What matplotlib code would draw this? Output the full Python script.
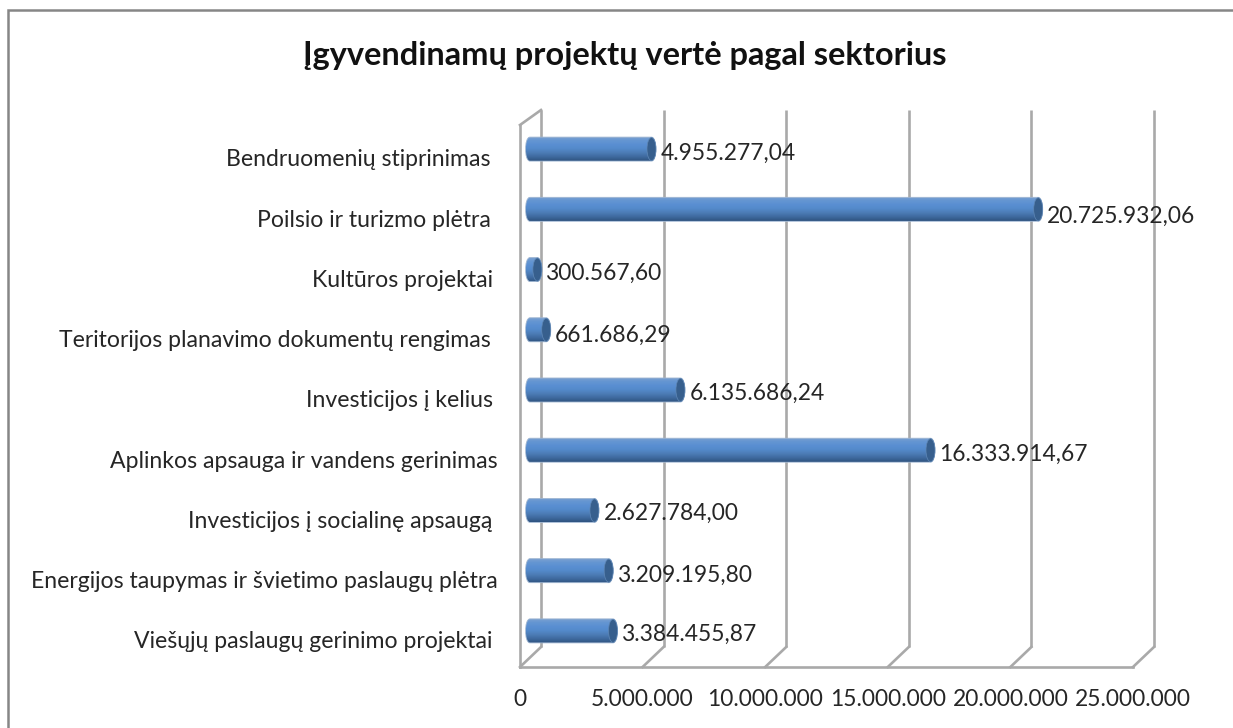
import matplotlib
matplotlib.use("Agg")
import matplotlib.pyplot as plt
import numpy as np
from matplotlib.colors import LinearSegmentedColormap
from matplotlib.patches import Ellipse, PathPatch
from matplotlib.path import Path
from matplotlib.transforms import ScaledTranslation

plt.rcParams['font.family'] = ['Lato', 'DejaVu Sans']

W, H = 1233, 728

categories = [
    "Bendruomenių stiprinimas",
    "Poilsio ir turizmo plėtra",
    "Kultūros projektai",
    "Teritorijos planavimo dokumentų rengimas",
    "Investicijos į kelius",
    "Aplinkos apsauga ir vandens gerinimas",
    "Investicijos į socialinę apsaugą",
    "Energijos taupymas ir švietimo paslaugų plėtra",
    "Viešųjų paslaugų gerinimo projektai",
]
values = [4955277.04, 20725932.06, 300567.60, 661686.29, 6135686.24,
          16333914.67, 2627784.00, 3209195.80, 3384455.87]
value_labels = ["4.955.277,04", "20.725.932,06", "300.567,60", "661.686,29", "6.135.686,24",
                "16.333.914,67", "2.627.784,00", "3.209.195,80", "3.384.455,87"]
ticks = [0, 5000000, 10000000, 15000000, 20000000, 25000000]
tick_labels = ["0", "5.000.000", "10.000.000", "15.000.000", "20.000.000", "25.000.000"]
title = "Įgyvendinamų projektų vertė pagal sektorius"

# the labels in the reference do not line up exactly
cat_right = [490, 491, 493, 491, 493, 498, 492, 498, 492]
label_drop = [4, 7, 4, 6, 3, 4, 3, 5, 3]

GRID = "#a9a9a9"
TEXT = "#262626"
FS = 16.4


def px_axes(left, top, right, bottom):
    # axes placed by its pixel box (y counted from the top of the image)
    a = fig.add_axes([left / W, 1 - bottom / H, (right - left) / W, (bottom - top) / H])
    a.set_xlim(0, 25000000)
    a.set_ylim(len(categories), 0)
    a.axis("off")
    a.patch.set_alpha(0)
    return a


fig = plt.figure(figsize=(W / 100, H / 100), dpi=100)

# full figure overlay in pixels for the frame and the 3d wall
bg = fig.add_axes([0, 0, 1, 1])
bg.set_xlim(0, W)
bg.set_ylim(H, 0)
bg.axis("off")
bg.plot([8, 8, W + 5], [H + 5, 10, 10], color="#868686", lw=1.8, solid_joinstyle="miter")

# front plane of the plot box
ax = px_axes(520, 125, 1133, 667)

# back wall: same scale, shifted by the depth of the box
back = px_axes(541, 110, 1154, 647)
back.vlines(ticks, 0, len(categories), color=GRID, lw=1.9, clip_on=False)

# floor and depth lines
bg.plot([520, 1133], [667, 667], color=GRID, lw=1.9)
bg.plot([520, 520], [125, 667], color=GRID, lw=1.9)
bg.plot([520, 541], [125, 110], color=GRID, lw=1.9)
x_front = ax.transData.transform([(t, 0) for t in ticks])[:, 0]
x_back = back.transData.transform([(t, 0) for t in ticks])[:, 0]
for xf, xb in zip(x_front, x_back):
    bg.plot([xf, xb], [667, 647], color=GRID, lw=1.9)

# bars sit halfway in the depth
bars = px_axes(530, 119, 1143, 661)

body_cmap = LinearSegmentedColormap.from_list(
    "cyl", ["#7ea3d0", "#6596d2", "#5a8fd2", "#548acb", "#4c7cb6", "#3f6a9f", "#2f5480"])
cap_color = "#375f8d"

x_per_px = 25000000 / 613
rx = 4.5 * x_per_px
bar_h = 24 / 60.2
gradient = np.linspace(0, 1, 64).reshape(-1, 1)

for i, (val, lab) in enumerate(zip(values, value_labels)):
    y = i + 0.5
    y0, y1 = y - bar_h / 2, y + bar_h / 2
    outline = Path(
        [(0, y0), (val, y0), (val + rx * 1.33, y0), (val + rx * 1.33, y1), (val, y1), (0, y1),
         (-rx * 1.33, y1), (-rx * 1.33, y0), (0, y0)],
        [Path.MOVETO, Path.LINETO, Path.CURVE4, Path.CURVE4, Path.CURVE4, Path.LINETO,
         Path.CURVE4, Path.CURVE4, Path.CURVE4],
    )
    patch = PathPatch(outline, facecolor="none", edgecolor="#9fb6d2", lw=0.6, zorder=3, clip_on=False)
    bars.add_patch(patch)
    im = bars.imshow(gradient, cmap=body_cmap, aspect="auto", zorder=2,
                     extent=(-rx, val + rx, y1, y0))
    im.set_clip_box(fig.bbox)
    im.set_clip_path(patch)
    bars.add_patch(Ellipse((val, y), 2 * rx, bar_h * 0.96, facecolor=cap_color, edgecolor="#5f87b5",
                           lw=0.5, zorder=4, clip_on=False))
    shift = ScaledTranslation(9 / 100, -label_drop[i] / 100, fig.dpi_scale_trans)
    bars.text(val, y, lab, fontsize=FS, color=TEXT, va="center", ha="left", zorder=6,
              transform=bars.transData + shift)

bars.set_xlim(0, 25000000)
bars.set_ylim(len(categories), 0)

# category labels, right aligned left of the box
for i, cat in enumerate(categories):
    bg.text(cat_right[i], 160 + i * 60.2, cat, fontsize=FS + 0.2, color=TEXT, ha="right", va="center")

# value axis labels
for xf, lab in zip(x_front, tick_labels):
    bg.text(xf, 700, lab, fontsize=FS, color=TEXT, ha="center", va="center")

bg.text(625, 55, title, fontsize=23.4, fontweight="bold", color="#111111", ha="center", va="center")

fig.savefig("out.png", dpi=100)
